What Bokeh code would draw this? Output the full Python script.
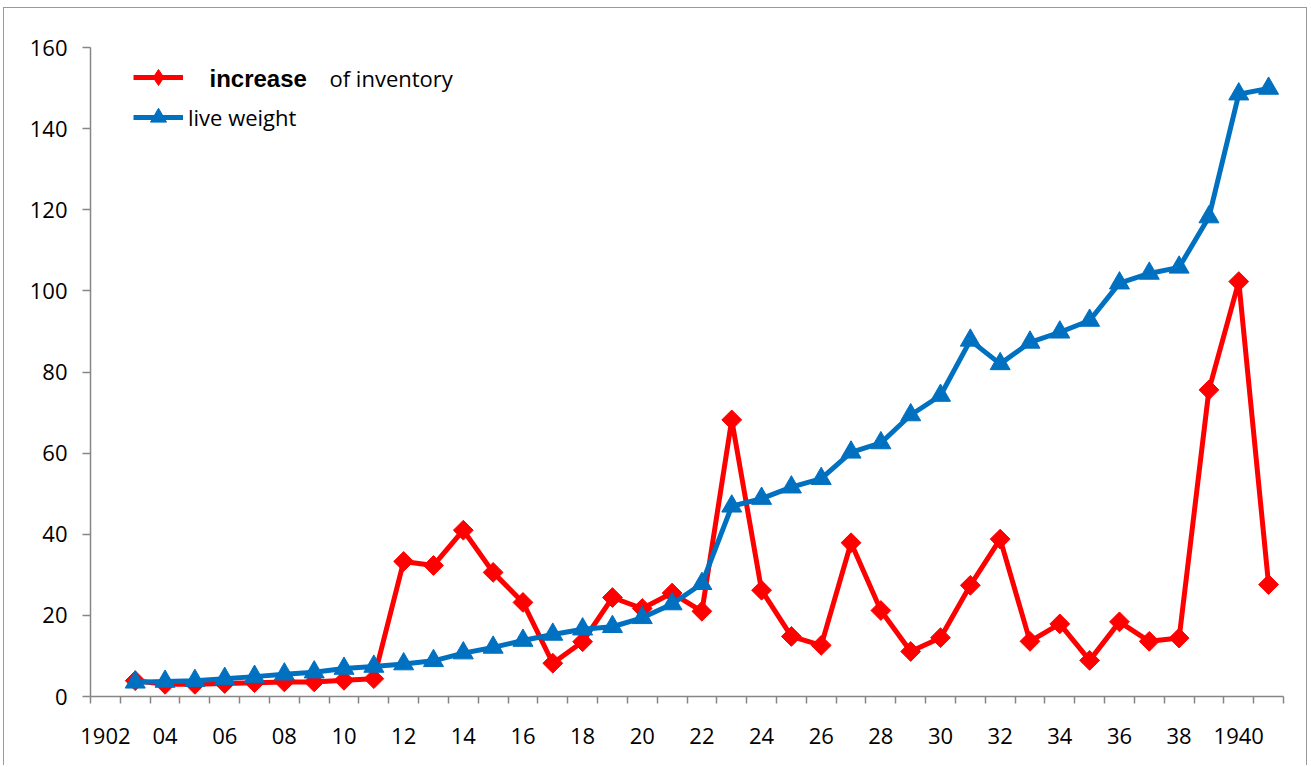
import math
from bokeh.plotting import figure
from bokeh.models import Range1d, FixedTicker, Legend, LegendItem, Label
from bokeh.embed import file_html
from bokeh.resources import INLINE

# ---- data ----
years = [1903, 1904, 1905, 1906, 1907, 1908, 1909, 1910, 1911, 1912,
         1913, 1914, 1915, 1916, 1917, 1918, 1919, 1920, 1921, 1922,
         1923, 1924, 1925, 1926, 1927, 1928, 1929, 1930, 1931, 1932,
         1933, 1934, 1935, 1936, 1937, 1938, 1939, 1940, 1941]

increase_of_inventory = [3.9, 3.0, 3.0, 3.2, 3.4, 3.6, 3.6, 4.0, 4.4, 33.3,
                         32.3, 41.0, 30.6, 23.2, 8.2, 13.5, 24.4, 21.7, 25.5, 21.0,
                         68.2, 26.2, 14.8, 12.6, 37.9, 21.2, 11.1, 14.5, 27.4, 38.8,
                         13.6, 17.9, 8.9, 18.4, 13.6, 14.4, 75.6, 102.3, 27.6]

live_weight = [3.5, 3.7, 3.9, 4.4, 4.9, 5.5, 6.0, 6.9, 7.4, 8.0,
               8.8, 10.7, 12.1, 13.8, 15.3, 16.6, 17.2, 19.4, 22.8, 27.8,
               46.9, 48.8, 51.6, 53.7, 60.2, 62.5, 69.4, 74.2, 87.8, 82.0,
               87.3, 89.8, 92.7, 101.9, 104.3, 105.8, 118.2, 148.5, 149.9]

category_years = [1902] + years
x_tick_years = [1902, 1904, 1906, 1908, 1910, 1912, 1914, 1916, 1918, 1920,
                1922, 1924, 1926, 1928, 1930, 1932, 1934, 1936, 1938, 1940]
x_tick_labels = ["1902", "04", "06", "08", "10", "12", "14", "16", "18", "20",
                 "22", "24", "26", "28", "30", "32", "34", "36", "38", "1940"]
y_ticks = [0, 20, 40, 60, 80, 100, 120, 140, 160]

FONT = "Open Sans"
FSIZE = "22px"
AXIS_GRAY = "#868686"
RED = "#FF0000"
BLUE = "#0070C0"

p = figure(width=1304, height=758, output_backend="svg", toolbar_location=None,
           x_range=Range1d(category_years[0] - 0.5, category_years[-1] + 0.5),
           y_range=Range1d(0, 160),
           min_border_left=86, min_border_right=25, min_border_top=39, min_border_bottom=70,
           styles={"margin-left": "3px", "margin-top": "7px",
                   "border-top": "1px solid #9a9a9a", "border-left": "1px solid #9a9a9a",
                   "border-right": "1px solid #9a9a9a"})
p.outline_line_color = None
p.xgrid.visible = False
p.ygrid.visible = False
p.background_fill_color = "white"
p.border_fill_color = "white"

# x axis
p.xaxis.ticker = FixedTicker(ticks=x_tick_years,
                             minor_ticks=[y - 0.5 for y in category_years] + [category_years[-1] + 0.5])
p.xaxis.major_label_overrides = {t: l for t, l in zip(x_tick_years, x_tick_labels)}
p.xaxis.major_tick_line_color = None
p.xaxis.major_tick_out = 0
p.xaxis.major_tick_in = 0
p.xaxis.minor_tick_out = 7
p.xaxis.minor_tick_in = 0
p.xaxis.minor_tick_line_color = AXIS_GRAY
p.xaxis.minor_tick_line_width = 1.5
p.xaxis.axis_line_color = AXIS_GRAY
p.xaxis.axis_line_width = 1.5
p.xaxis.major_label_text_font = FONT
p.xaxis.major_label_text_font_size = FSIZE
p.xaxis.major_label_text_color = "black"
p.xaxis.major_label_standoff = 24

# y axis
p.yaxis.ticker = FixedTicker(ticks=y_ticks, minor_ticks=[])
p.yaxis.major_tick_out = 8
p.yaxis.major_tick_in = 0
p.yaxis.major_tick_line_color = AXIS_GRAY
p.yaxis.major_tick_line_width = 1.5
p.yaxis.axis_line_color = AXIS_GRAY
p.yaxis.axis_line_width = 1.5
p.yaxis.major_label_text_font = FONT
p.yaxis.major_label_text_font_size = FSIZE
p.yaxis.major_label_text_color = "black"
p.yaxis.major_label_standoff = 15

# series
r_line = p.line(years, increase_of_inventory, line_color=RED, line_width=5, line_join="round")
r_mark = p.scatter(years, increase_of_inventory, marker="square", angle=math.pi / 4,
                   size=14, fill_color=RED, line_color=RED)
b_line = p.line(years, live_weight, line_color=BLUE, line_width=5, line_join="round")
b_mark = p.scatter(years, live_weight, marker="triangle", size=20,
                   fill_color=BLUE, line_color=BLUE)

# legend-only diamond glyph (legend does not rotate markers)
r_legend_mark = p.scatter(years, increase_of_inventory, marker="diamond", size=16,
                          fill_color=RED, line_color=RED, visible=False)

legend = Legend(items=[LegendItem(label="", renderers=[r_line, r_legend_mark]),
                       LegendItem(label="live weight", renderers=[b_line, b_mark])],
                location=(43, 559), margin=0, padding=0, spacing=0,
                glyph_width=50, glyph_height=40, label_height=40, label_standoff=5,
                label_text_font=FONT, label_text_font_size=FSIZE, label_text_color="black",
                background_fill_alpha=0, border_line_color=None)
p.add_layout(legend, "center")

p.add_layout(Label(x=239, y=619, x_units="screen", y_units="screen", text="of inventory",
                   text_font=FONT, text_font_size=FSIZE, text_color="black",
                   text_baseline="alphabetic"))
p.add_layout(Label(x=119, y=618, x_units="screen", y_units="screen", text="increase",
                   text_font="Liberation Sans", text_font_style="bold", text_font_size="24px",
                   text_color="black", text_baseline="alphabetic"))

open("out.html", "w").write(file_html(p, INLINE))
